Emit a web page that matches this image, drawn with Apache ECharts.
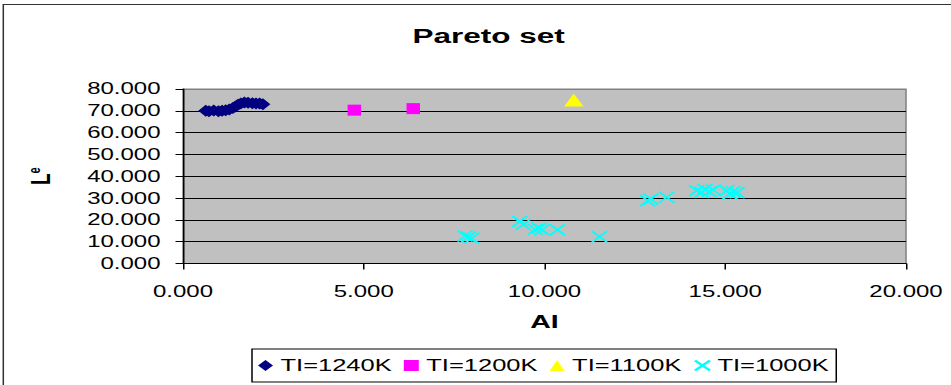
<!DOCTYPE html>
<html><head><meta charset="utf-8">
<script src="https://cdn.jsdelivr.net/npm/echarts@6/dist/echarts.min.js"></script>
<style>
html,body{margin:0;padding:0;background:#fff;overflow:hidden;width:951px;height:385px}
#c{width:634px;height:385px;transform:scaleX(1.5);transform-origin:0 0;}
</style></head><body><div id="c"></div>
<script>
// ---- data ----
const chartTitle = 'Pareto set';
const xAxisTitle = 'AI';
const seriesNames = ['TI=1240K', 'TI=1200K', 'TI=1100K', 'TI=1000K'];
const xTicks = [0, 5, 10, 15, 20];
const yTicks = [0, 10, 20, 30, 40, 50, 60, 70, 80];

const ti1240 = [
  [0.63, 70.0], [0.72, 69.8], [0.85, 70.1], [0.98, 69.8], [1.08, 70.0],
  [1.18, 70.3], [1.28, 70.6], [1.38, 71.3], [1.45, 72.0], [1.52, 72.8],
  [1.60, 73.4], [1.70, 73.8], [1.80, 73.7], [1.92, 73.5], [2.02, 73.4],
  [2.12, 73.3], [2.21, 73.0]
];
const ti1200 = [[4.74, 70.3], [6.37, 71.0]];
const ti1100 = [[10.81, 74.9]];
const ti1000 = [
  [7.80, 12.6], [7.90, 12.2], [7.99, 11.6],
  [9.32, 19.3], [9.41, 17.9],
  [9.74, 15.7], [9.85, 16.2], [9.93, 15.5],
  [10.36, 15.4], [11.52, 12.3],
  [12.85, 28.8], [12.94, 29.5], [13.38, 30.4],
  [14.21, 33.4], [14.35, 32.6], [14.44, 34.0], [14.56, 32.9], [14.67, 33.7],
  [15.04, 33.4], [15.13, 31.9], [15.22, 32.9], [15.33, 32.5]
];

// ---- chart ----
const FONT = 'Liberation Sans, Arial, sans-serif';
const chart = echarts.init(document.getElementById('c'), null, {renderer: 'svg'});
const crossPath = 'path://M0,0L10,10M10,0L0,10';

chart.setOption({
  animation: false,
  backgroundColor: '#ffffff',
  textStyle: {fontFamily: FONT},
  title: {
    text: chartTitle,
    left: 275, top: 25, padding: 0,
    textStyle: {fontFamily: FONT, fontSize: 21, fontWeight: 'bold', color: '#000'}
  },
  graphic: [{
    type: 'rect', silent: true, z: -10,
    shape: {x: 2.2, y: 4.5, width: 800, height: 600},
    style: {fill: 'none', stroke: '#333', lineWidth: 1}
  }],
  grid: {
    left: 122, right: 30, top: 89, bottom: 121.5,
    show: true, backgroundColor: '#C0C0C0', borderColor: '#808080', borderWidth: 1,
    outerBoundsMode: 'none'
  },
  legend: {
    data: seriesNames,
    left: 168, top: 349,
    padding: [8, 5, 8, 4],
    itemWidth: 10, itemHeight: 11, itemGap: 8,
    borderColor: '#000', borderWidth: 1,
    textStyle: {fontFamily: FONT, fontSize: 17, color: '#000'}
  },
  xAxis: {
    type: 'value', min: xTicks[0], max: xTicks[xTicks.length - 1], interval: 5,
    name: xAxisTitle, nameLocation: 'middle', nameGap: 48,
    nameTextStyle: {fontFamily: FONT, fontSize: 19, fontWeight: 'bold', color: '#000'},
    axisLine: {show: true, onZero: false, lineStyle: {color: '#000', width: 1}},
    axisTick: {show: true, length: 6, lineStyle: {color: '#000'}},
    axisLabel: {margin: 20, fontFamily: FONT, fontSize: 16, color: '#000',
      formatter: v => v.toFixed(3)},
    splitLine: {show: false}
  },
  yAxis: {
    type: 'value', min: yTicks[0], max: yTicks[yTicks.length - 1], interval: 10,
    name: '{l|L}{e|e}', nameLocation: 'middle', nameGap: 86, nameRotate: 90,
    nameTextStyle: {
      color: '#000',
      rich: {
        l: {fontFamily: FONT, fontSize: 19, fontWeight: 'bold', color: '#000'},
        e: {fontFamily: FONT, fontSize: 11, fontWeight: 'bold', color: '#000', verticalAlign: 'top'}
      }
    },
    axisLine: {show: true, lineStyle: {color: '#000', width: 1}},
    axisTick: {show: true, length: 5, lineStyle: {color: '#000'}},
    axisLabel: {margin: 15, fontFamily: FONT, fontSize: 16, color: '#000',
      formatter: v => v.toFixed(3)},
    splitLine: {show: true, lineStyle: {
      color: ['#000', '#000', '#000', '#000', '#000', '#000', '#000', '#000', '#808080'],
      width: 1}}
  },
  series: [
    {name: seriesNames[0], type: 'scatter', data: ti1240, symbol: 'diamond', symbolSize: [10, 12],
     itemStyle: {color: '#000080', opacity: 1}},
    {name: seriesNames[1], type: 'scatter', data: ti1200, symbol: 'rect', symbolSize: [9, 11],
     itemStyle: {color: '#FF00FF', opacity: 1}},
    {name: seriesNames[2], type: 'scatter', data: ti1100, symbol: 'triangle', symbolSize: [13, 13],
     itemStyle: {color: '#FFFF00', opacity: 1}},
    {name: seriesNames[3], type: 'scatter', data: ti1000, symbol: crossPath, symbolSize: [10, 11],
     itemStyle: {color: '#00FFFF', borderColor: '#00FFFF', borderWidth: 1.5, opacity: 1}}
  ]
});
</script>
</body></html>
